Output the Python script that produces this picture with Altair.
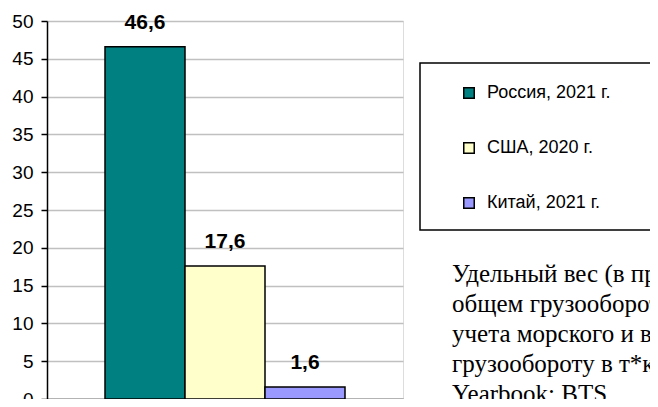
import altair as alt
import pandas as pd

SERIES = ["Россия, 2021 г.", "США, 2020 г.", "Китай, 2021 г."]
VALUES = [46.6, 17.6, 1.6]
COLORS = ["#008080", "#FFFFCC", "#9999FF"]
Y_TICKS = [0, 5, 10, 15, 20, 25, 30, 35, 40, 45, 50]
NOTE_LINES = [
    "Удельный вес (в процентах) автомобильного транспорта в",
    "общем грузообороте (без",
    "учета морского и внутреннего водного транспорта) по",
    "грузообороту в т*км. Источник: Росстат; Transportation",
    "Yearbook: BTS.",
]

df = pd.DataFrame({"series": SERIES, "value": VALUES})

FONT = "Liberation Sans"
PLOT_W = 356
PLOT_H = 378

x_axis = alt.Axis(labels=False, ticks=False, title=None, domainColor="black",
                  domainWidth=1.5, grid=False)
y_axis = alt.Axis(values=Y_TICKS, tickCount=11, title=None, domainColor="black",
                  domainWidth=1.5, tickColor="black", tickSize=6, tickWidth=1.5,
                  labelOverlap=False, labelFont=FONT, labelFontSize=19,
                  labelColor="black", labelPadding=8,
                  gridColor="#c0c0c0", gridWidth=1.5)
x_scale = alt.Scale(domain=SERIES, paddingInner=0, paddingOuter=0.725)
y_scale = alt.Scale(domain=[0, 50], nice=False)

bars = alt.Chart(df).mark_bar(stroke="black", strokeWidth=1.5, opacity=1).encode(
    x=alt.X("series:N", sort=SERIES, scale=x_scale, axis=x_axis),
    y=alt.Y("value:Q", scale=y_scale, axis=y_axis),
    color=alt.Color(
        "series:N",
        sort=SERIES,
        scale=alt.Scale(domain=SERIES, range=COLORS),
        legend=alt.Legend(
            orient="none", legendX=413, legendY=63, title=None,
            padding=0, symbolType="square", symbolSize=110,
            symbolStrokeColor="black", symbolStrokeWidth=1.5,
            labelFont=FONT, labelFontSize=18, labelColor="black",
            labelOffset=9, rowPadding=37, labelLimit=400,
        ),
    ),
)

labels = alt.Chart(df).transform_calculate(
    label="replace(format(datum.value, '.1f'), '.', ',')"
).mark_text(fontWeight="bold", fontSize=21, font=FONT, dy=-18,
            baseline="alphabetic", color="black").encode(
    x=alt.X("series:N", sort=SERIES, scale=x_scale, axis=x_axis),
    y=alt.Y("value:Q", scale=y_scale, axis=y_axis),
    text="label:N",
)

box = alt.Chart(pd.DataFrame({"k": [0]})).mark_rect(
    fill="white", fillOpacity=0, stroke="black", strokeWidth=1.5
).encode(
    x=alt.value(373), x2=alt.value(800), y=alt.value(42), y2=alt.value(209)
)

note = alt.Chart(pd.DataFrame({"k": [0]})).mark_text(
    text=NOTE_LINES, font="Liberation Serif", fontSize=25, lineHeight=30,
    align="left", baseline="alphabetic", color="black"
).encode(x=alt.value(405), y=alt.value(261))

chart = alt.layer(bars, labels, box, note).properties(
    width=PLOT_W, height=PLOT_H,
    autosize=alt.AutoSizeParams(type="none"),
    padding={"left": 39, "top": 13, "right": 642 - 39 - PLOT_W, "bottom": 0},
).configure_view(stroke="#a0a0a0", strokeWidth=1.5).configure(font=FONT, background="white")

chart.save("out.html", embed_options={"renderer": "svg", "actions": False})
